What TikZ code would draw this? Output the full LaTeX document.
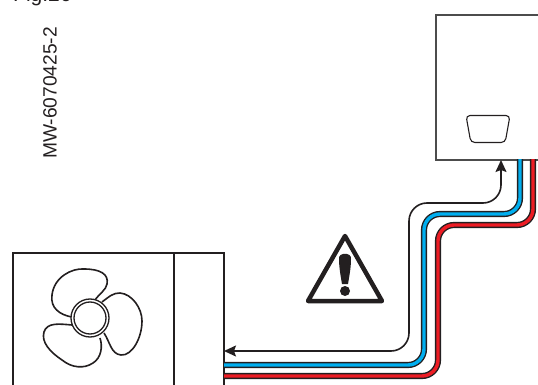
\documentclass[tikz,border=0pt]{standalone}
\usepackage{xcolor}
\usepackage{fontspec}
\setmainfont{Liberation Sans}
\usetikzlibrary{arrows.meta, positioning, shapes.geometric}
\definecolor{pipeblue}{HTML}{00AEEF}
\definecolor{pipered}{HTML}{ED1C24}
\definecolor{inkcolor}{HTML}{231F20}

\begin{document}
\begin{tikzpicture}[
  x=1pt, y=-1pt,
  unitbox/.style={draw=inkcolor, line width=1.6pt, inner sep=0pt, anchor=north west},
  blade/.style={draw=inkcolor, line width=1.6pt, fill=white},
  pipe/.style={draw=inkcolor, line width=1.4pt, double distance=3.4pt, rounded corners=16pt},
  arrow/.style={{Stealth[length=12pt, width=11pt, inset=2pt]}-{Stealth[length=12pt, width=11pt, inset=2pt]},
                draw=inkcolor, fill=none, line width=1.6pt, rounded corners=18pt},
]
\useasboundingbox (0,0) rectangle (538,385);
\clip (0,0) rectangle (538,385);

%% Caption
\node[anchor=base west, inner sep=0pt, font=\fontsize{21}{21}\selectfont, inkcolor] (fig) at (13,1.5) {Fig.26};
\node[rotate=90, font=\fontsize{19.2}{19.2}\selectfont, inkcolor] (code) at (50,93) {MW-6070425-2};

%% Boiler
\node[unitbox, draw=black!70, minimum width=140pt, minimum height=145pt] (boiler) at (435,14) {};
\node[trapezium, draw=inkcolor, line width=1.1pt, rounded corners=4pt, inner sep=2pt,
      shape border rotate=180, trapezium angle=82, trapezium stretches=true,
      minimum width=44pt, minimum height=27pt] (display) at (488,129) {};

%% Outdoor unit
\node[unitbox, minimum width=211pt, minimum height=170pt] (outdoor) at (12,252) {};
\draw[draw=inkcolor, line width=1.6pt] (174,252) -- (174,422);

%% Fan
\draw[blade] (72,317) .. controls (60,315) and (50,308) .. (52,295)
  .. controls (54,277) and (72,268) .. (84,269)
  .. controls (100,269) and (109,274) .. (107,284)
  .. controls (106,290) and (100,293) .. (95,300);
\draw[blade] (102,302) .. controls (110,296) and (113,293) .. (120,293)
  .. controls (132,294) and (142,308) .. (142,321)
  .. controls (142,338) and (132,356) .. (121,355)
  .. controls (111,354) and (110,342) .. (104,333);
\draw[blade] (100,338) .. controls (103,347) and (101,358) .. (93,363)
  .. controls (84,369) and (72,368) .. (62,360)
  .. controls (50,352) and (41,342) .. (44,332)
  .. controls (47,322) and (60,324) .. (72,325);
\node[circle, draw=inkcolor, line width=1.3pt, fill=white, minimum size=38pt, inner sep=0pt] (ring) at (90,318) {};
\node[circle, draw=inkcolor, line width=1.3pt, minimum size=32pt, inner sep=0pt] (hub) at (90,318) {};

%% Warning sign
\draw[draw=inkcolor, line width=4.5pt, line join=round] (345,236) -- (382,301) -- (308,301) -- cycle;
\fill[inkcolor] (339,259) .. controls (338,252) and (352,252) .. (351,259)
  .. controls (351,268) and (349,278) .. (348,284) -- (342,284) .. controls (341,278) and (339,268) .. (339,259) -- cycle;
\node[circle, fill=inkcolor, minimum size=10pt, inner sep=0pt] (dot) at (345,291) {};

%% Pipe ends
\coordinate (signaltop) at (501,160);
\coordinate (signalend) at (224,351);
\coordinate (bluetop) at (520,159);
\coordinate (blueend) at (224,365);
\coordinate (redtop) at (533,159);
\coordinate (redend) at (224,376);
\coordinate (signalbend) at (409,203);
\coordinate (bluebend) at (424,214);
\coordinate (redbend) at (438,225);

%% Connections
\draw[pipe, double=pipeblue] (bluetop) |- (bluebend) |- (blueend);
\draw[pipe, double=pipered] (redtop) |- (redbend) |- (redend);
\draw[arrow] (signaltop) |- (signalbend) |- (signalend);

\end{tikzpicture}
\end{document}
